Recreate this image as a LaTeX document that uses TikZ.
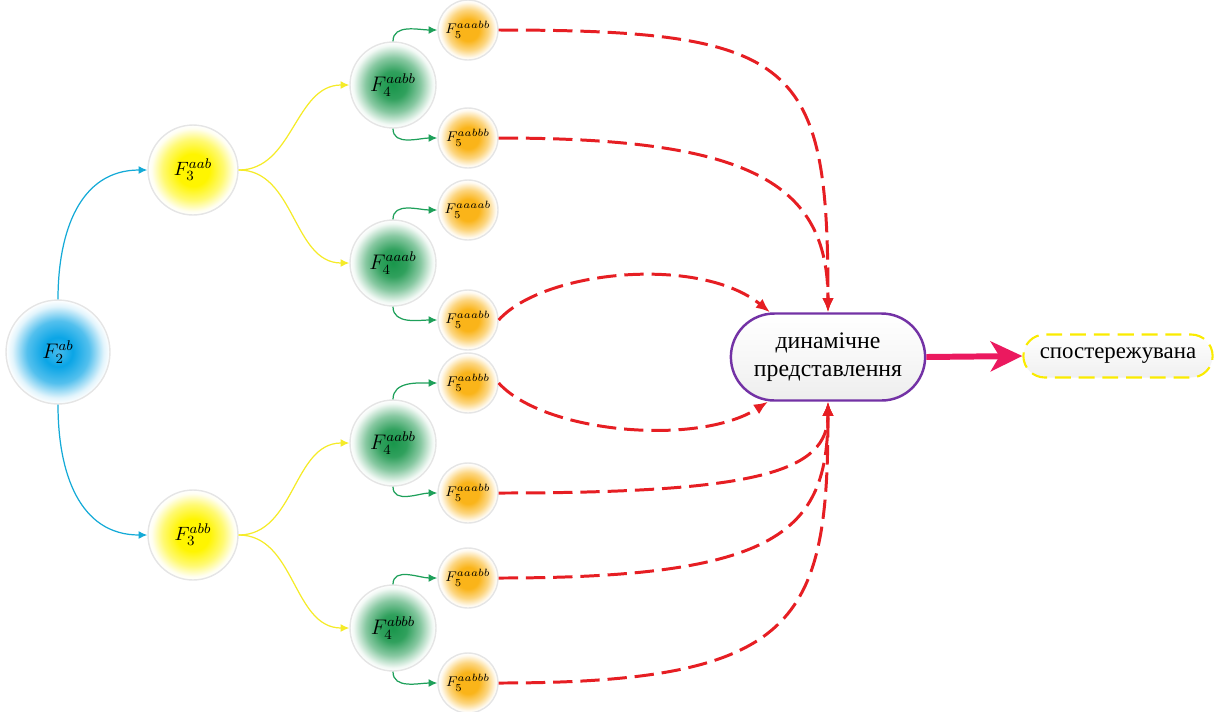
\documentclass[tikz,border=0pt]{standalone}
\usepackage{fontspec}
\setmainfont{Liberation Serif}
\usetikzlibrary{arrows.meta,shapes.misc,calc}

\definecolor{fBlue}{RGB}{10,165,230}
\definecolor{fYellow}{RGB}{255,245,0}
\definecolor{fGreen}{RGB}{25,150,75}
\definecolor{fOrange}{RGB}{250,180,25}
\definecolor{linkBlue}{RGB}{20,170,215}
\definecolor{linkYellow}{RGB}{245,235,40}
\definecolor{linkGreen}{RGB}{30,160,90}
\definecolor{dashRed}{RGB}{230,30,35}
\definecolor{boxPurple}{RGB}{115,50,165}
\definecolor{hotPink}{RGB}{235,25,95}
\definecolor{dashYellow}{RGB}{250,235,0}

% radial fades: full colour in the middle, white at the rim (rim = 25bp)
\pgfdeclareradialshading{bluefade}{\pgfpoint{0bp}{0bp}}{%
  color(0bp)=(fBlue!75!white); color(7bp)=(fBlue); color(15bp)=(fBlue!70!white);
  color(22bp)=(fBlue!12!white); color(25bp)=(white); color(50bp)=(white)}
\pgfdeclareradialshading{yellowfade}{\pgfpoint{0bp}{0bp}}{%
  color(0bp)=(fYellow); color(9bp)=(fYellow); color(17bp)=(fYellow!55!white);
  color(23bp)=(fYellow!6!white); color(25bp)=(white); color(50bp)=(white)}
\pgfdeclareradialshading{greenfade}{\pgfpoint{0bp}{0bp}}{%
  color(0bp)=(fGreen); color(8bp)=(fGreen!90!white); color(16bp)=(fGreen!52!white);
  color(23bp)=(fGreen!6!white); color(25bp)=(white); color(50bp)=(white)}
\pgfdeclareradialshading{orangefade}{\pgfpoint{0bp}{0bp}}{%
  color(0bp)=(fOrange); color(9bp)=(fOrange); color(17bp)=(fOrange!55!white);
  color(23bp)=(fOrange!7!white); color(25bp)=(white); color(50bp)=(white)}

\tikzset{
  ball/.style={circle, inner sep=0pt, draw=black!10, line width=0.8pt, shade},
  lvltwo/.style={ball, shading=bluefade, minimum size=2.08cm, font=\fontsize{12}{14}\selectfont},
  lvlthree/.style={ball, shading=yellowfade, minimum size=1.8cm, font=\fontsize{11}{13}\selectfont},
  lvlfour/.style={ball, shading=greenfade, minimum size=1.72cm, font=\fontsize{12}{14}\selectfont},
  lvlfive/.style={ball, shading=orangefade, minimum size=1.2cm, font=\fontsize{8}{9}\selectfont},
  thinlink/.style={line width=0.7pt, -{Latex[length=5pt,width=4.5pt]}},
  bluelink/.style={thinlink, linkBlue},
  yellowlink/.style={thinlink, linkYellow},
  greenlink/.style={thinlink, linkGreen},
  redlink/.style={dashRed, line width=1.7pt, dash pattern=on 11pt off 4.5pt,
    -{Latex[length=8pt,width=6.5pt]}},
}

\begin{document}
\begin{tikzpicture}[x=0.02cm, y=-0.02cm]
\useasboundingbox (0,0) rectangle (1224,711);

% tree of F nodes
\node[lvltwo] (f2) at (58,352) {$F_2^{ab}$};

\node[lvlthree] (f3a) at (193,170) {$F_3^{aab}$};
\node[lvlthree] (f3b) at (193,535) {$F_3^{abb}$};

\node[lvlfour] (f4a) at (393,85)  {$F_4^{aabb}$};
\node[lvlfour] (f4b) at (393,263) {$F_4^{aaab}$};
\node[lvlfour] (f4c) at (393,443) {$F_4^{aabb}$};
\node[lvlfour] (f4d) at (393,628) {$F_4^{abbb}$};

\node[lvlfive] (f5a) at (468,30)  {$F_5^{aaabb}$};
\node[lvlfive] (f5b) at (468,138) {$F_5^{aabbb}$};
\node[lvlfive] (f5c) at (468,210) {$F_5^{aaaab}$};
\node[lvlfive] (f5d) at (468,320) {$F_5^{aaabb}$};
\node[lvlfive] (f5e) at (468,383) {$F_5^{aabbb}$};
\node[lvlfive] (f5f) at (468,493) {$F_5^{aaabb}$};
\node[lvlfive] (f5g) at (468,578) {$F_5^{aaabb}$};
\node[lvlfive] (f5h) at (468,683) {$F_5^{aabbb}$};

% target boxes
\node[rounded rectangle, draw=boxPurple, line width=1.4pt,
      top color=white, bottom color=black!7, middle color=black!3,
      minimum width=4.12cm, minimum height=1.74cm, align=center,
      font=\fontsize{13.5}{16}\selectfont] (dyn) at (828,357)
      {динамічне\\представлення};
\node[rounded rectangle, draw=dashYellow, line width=1.2pt, dash pattern=on 9pt off 4.5pt,
      top color=white, bottom color=black!6,
      minimum width=4.02cm, minimum height=0.86cm,
      font=\fontsize{13}{15}\selectfont] (obs) at (1118,356) {спостережувана};

% links between levels
\draw[bluelink] (f2.north) to[out=90,in=180,looseness=1.1] (f3a.west);
\draw[bluelink] (f2.south) to[out=-90,in=180,looseness=1.1] (f3b.west);

\draw[yellowlink] (f3a.east) to[out=0,in=180] (f4a.west);
\draw[yellowlink] (f3a.east) to[out=0,in=180] (f4b.west);
\draw[yellowlink] (f3b.east) to[out=0,in=180] (f4c.west);
\draw[yellowlink] (f3b.east) to[out=0,in=180] (f4d.west);

\draw[greenlink] (f4a.north) to[out=90,in=180] (f5a.west);
\draw[greenlink] (f4a.south) to[out=-90,in=180] (f5b.west);
\draw[greenlink] (f4b.north) to[out=90,in=180] (f5c.west);
\draw[greenlink] (f4b.south) to[out=-90,in=180] (f5d.west);
\draw[greenlink] (f4c.north) to[out=90,in=180] (f5e.west);
\draw[greenlink] (f4c.south) to[out=-90,in=180] (f5f.west);
\draw[greenlink] (f4d.north) to[out=90,in=180] (f5g.west);
\draw[greenlink] (f4d.south) to[out=-90,in=180] (f5h.west);

% dashed links into the dynamic representation
\coordinate (dynTop) at (dyn.north);
\coordinate (dynBot) at (dyn.south);
\coordinate (dynTL) at ($(dyn.north)+(-58,0)$);
\coordinate (dynBL) at ($(dyn.south)+(-60,0)$);

\draw[redlink] (f5a.east) .. controls +(300,0) and +(0,-250) .. (dynTop);
\draw[redlink] (f5b.east) .. controls +(250,0) and +(0,-130) .. (dynTop);
\draw[redlink] (f5d.east) .. controls +(45,-50) and +(-70,-57) .. (dynTL);
\draw[redlink] (f5e.east) .. controls +(45,50) and +(-70,45) .. (dynBL);
\draw[redlink] (f5f.east) .. controls +(260,0) and +(0,70) .. (dynBot);
\draw[redlink] (f5g.east) .. controls +(280,0) and +(0,130) .. (dynBot);
\draw[redlink] (f5h.east) .. controls +(300,0) and +(0,220) .. (dynBot);

% output arrow
\draw[hotPink, line width=3.4pt, -{Stealth[length=18pt,width=17pt,inset=5pt]}]
  (dyn.east) -- (obs.west);
\end{tikzpicture}
\end{document}
